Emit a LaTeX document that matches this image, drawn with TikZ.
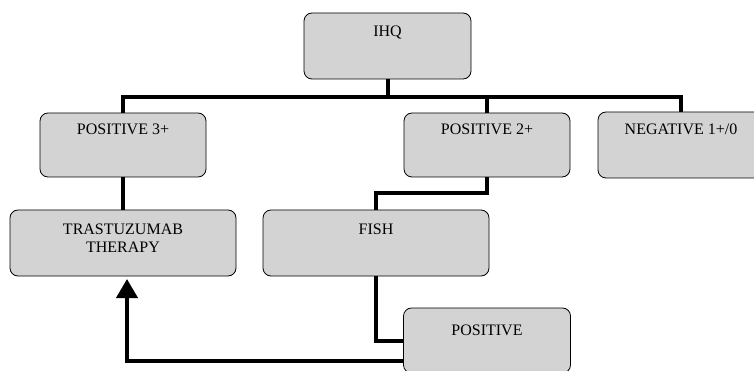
\documentclass[tikz,border=0pt]{standalone}
\usepackage{fontspec}
\setmainfont{Liberation Serif}
\usetikzlibrary{arrows.meta}
\definecolor{boxgray}{RGB}{211,211,211}
\tikzset{
  box/.style={draw=black, line width=0.8pt, fill=boxgray, rounded corners=8pt, inner sep=0pt},
  lbl/.style={anchor=base, inner sep=0pt, align=center, font=\fontsize{16}{18}\selectfont},
  conn/.style={line width=4pt, line join=miter},
  arr/.style={line width=4pt, -{Triangle[width=21pt,length=19pt]}, shorten >=3pt}
}
\begin{document}
\begin{tikzpicture}[x=1pt,y=-1pt]
\useasboundingbox (0,0) rectangle (754,371);
\clip (0,0) rectangle (754,371);
% boxes
\node[box, minimum width=167pt, minimum height=66pt] (ihq) at (387.5,46) {};
\node[box, minimum width=166pt, minimum height=64pt] (p3) at (123,145) {};
\node[box, minimum width=166pt, minimum height=64pt] (p2) at (487,145) {};
\node[box, minimum width=166pt, minimum height=66pt] (neg) at (681,145) {};
\node[box, minimum width=226pt, minimum height=66pt] (tras) at (123,243) {};
\node[box, minimum width=226pt, minimum height=66pt] (fish) at (376,243) {};
\node[box, minimum width=167pt, minimum height=65pt] (pos) at (487,340.5) {};
% labels
\node[lbl] (tihq) at (387.5,37) {IHQ};
\node[lbl] (tp3) at (123,135) {POSITIVE 3+};
\node[lbl] (tp2) at (487,135) {POSITIVE 2+};
\node[lbl] (tneg) at (681,135) {NEGATIVE 1+/0};
\node[lbl] (ttras) at (123,252) {TRASTUZUMAB\\THERAPY};
\node[lbl] (tfish) at (376,234) {FISH};
\node[lbl] (tpos) at (487,335) {POSITIVE};
% connectors
\coordinate (bus) at (0,97);
\coordinate (mid) at (0,193);
\coordinate (a1) at (404,361);
\coordinate (a2) at (127,361);
\coordinate (a3) at (127,276);
\draw[conn] (ihq.south) -- (ihq.south |- bus);
\draw[conn] (p3.north) -- (p3.north |- bus) -- (neg.north |- bus) -- (neg.north);
\draw[conn] (p2.north |- bus) -- (p2.north);
\draw[conn] (p3.south) -- (tras.north);
\draw[conn] (p2.south) -- (p2.south |- mid) -- (fish.north |- mid) -- (fish.north);
\draw[conn] (fish.south) -- (fish.south |- pos.west) -- (pos.west);
\draw[arr] (a1) -- (a2) -- (a3);
\end{tikzpicture}
\end{document}
